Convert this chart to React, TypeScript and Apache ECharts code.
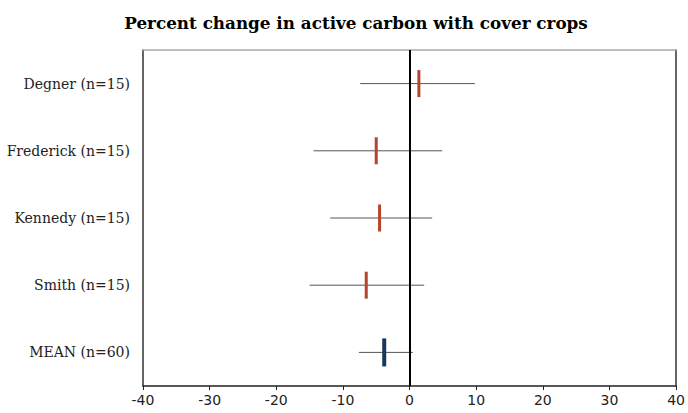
import React, { useEffect, useRef } from "react";
import * as echarts from "echarts";

const categories = ["Degner (n=15)", "Frederick (n=15)", "Kennedy (n=15)", "Smith (n=15)", "MEAN (n=60)"];
const means = [1.4, -5.0, -4.5, -6.5, -3.8];
const lows = [-7.4, -14.4, -11.9, -15.0, -7.6];
const highs = [9.8, 4.9, 3.4, 2.2, 0.5];
const xTicks = [-40, -30, -20, -10, 0, 10, 20, 30, 40];
const title = "Percent change in active carbon with cover crops";

export default function App() {
  const ref = useRef<HTMLDivElement>(null);
  useEffect(() => {
    if (!ref.current) return;
    const chart = echarts.init(ref.current, undefined, { renderer: "svg" });
    const data = categories.map((c, i) => [i, means[i], lows[i], highs[i]]);
    chart.setOption({
      animation: false,
      title: {
        text: title,
        left: 351,
        textAlign: "center",
        top: 9,
        textStyle: { fontFamily: "DejaVu Serif", fontWeight: "bold", fontSize: 16.8, color: "#000" },
      },
      grid: { left: 143, right: 10, top: 50, bottom: 27, containLabel: false },
      xAxis: [
        {
          type: "value",
          min: xTicks[0],
          max: xTicks[xTicks.length - 1],
          interval: 10,
          position: "bottom",
          splitLine: { show: false },
          axisLine: { show: true, onZero: false, lineStyle: { color: "#222", width: 1.5 } },
          axisTick: { show: true, length: 4, lineStyle: { color: "#222" } },
          axisLabel: { fontFamily: "DejaVu Sans", fontSize: 14, color: "#222", margin: 7 },
        },
        {
          type: "value",
          min: xTicks[0],
          max: xTicks[xTicks.length - 1],
          position: "top",
          splitLine: { show: false },
          axisLine: { show: true, onZero: false, lineStyle: { color: "#aaa", width: 1.5 } },
          axisTick: { show: false },
          axisLabel: { show: false },
        },
      ],
      yAxis: [
        {
          type: "category",
          data: categories,
          inverse: true,
          position: "left",
          axisLine: { show: true, onZero: false, lineStyle: { color: "#333", width: 1.5 } },
          axisTick: { show: false },
          axisLabel: { fontFamily: "DejaVu Serif", fontSize: 14, color: "#222", margin: 13 },
        },
        {
          type: "category",
          data: categories,
          inverse: true,
          position: "right",
          axisLine: { show: true, onZero: false, lineStyle: { color: "#333", width: 1.5 } },
          axisTick: { show: false },
          axisLabel: { show: false },
        },
      ],
      series: [
        {
          type: "custom",
          xAxisIndex: 0,
          yAxisIndex: 0,
          data,
          renderItem: (params: any, api: any) => {
            const cat = api.value(0);
            const m = api.value(1);
            const lo = api.value(2);
            const hi = api.value(3);
            const pLo = api.coord([lo, cat]);
            const pHi = api.coord([hi, cat]);
            const pM = api.coord([m, cat]);
            const isMean = cat === categories.length - 1;
            const w = isMean ? 4 : 3;
            const h = isMean ? 28 : 27;
            return {
              type: "group",
              children: [
                {
                  type: "line",
                  shape: { x1: pLo[0], y1: pLo[1], x2: pHi[0], y2: pHi[1] },
                  style: { stroke: "#555", lineWidth: 1 },
                },
                {
                  type: "rect",
                  shape: { x: pM[0] - w / 2, y: pM[1] - h / 2, width: w, height: h },
                  style: { fill: isMean ? "#17375e" : "#b5442a" },
                },
              ],
            };
          },
          markLine: {
            silent: true,
            symbol: "none",
            label: { show: false },
            lineStyle: { color: "#000", width: 2, type: "solid" },
            data: [{ xAxis: 0 }],
          },
          z: 3,
        },
      ],
    });
    return () => chart.dispose();
  }, []);
  return <div ref={ref} style={{ width: 688, height: 413, position: "absolute", left: 0, top: 0 }} />;
}
